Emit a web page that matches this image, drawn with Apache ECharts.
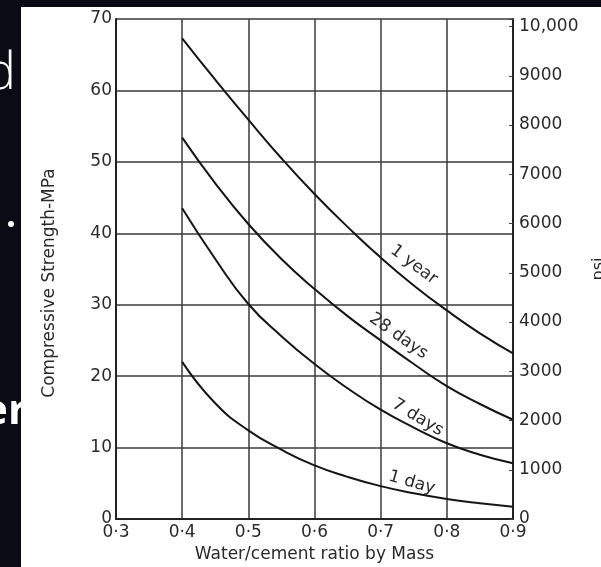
<!DOCTYPE html>
<html>
<head>
<meta charset="utf-8">
<script src="https://cdn.jsdelivr.net/npm/echarts@6/dist/echarts.min.js"></script>
<style>
html,body{margin:0;padding:0;background:#0b0b15;}
#c{width:601px;height:567px;}
</style>
</head>
<body>
<div id="c"></div>
<script>
// water/cement ratio (x values)
const ratios = [0.40, 0.45, 0.50, 0.55, 0.60, 0.65, 0.70, 0.75, 0.80, 0.85, 0.90];
// compressive strength, MPa
const oneYear    = [67.3, 61.5, 55.9, 50.5, 45.5, 40.9, 36.6, 32.7, 29.2, 26.0, 23.2];
const days28     = [53.4, 47.0, 41.3, 36.4, 32.2, 28.4, 25.0, 21.7, 18.6, 16.1, 13.9];
const days7      = [43.5, 36.4, 30.1, 25.6, 21.7, 18.3, 15.3, 12.8, 10.6,  9.0,  7.8];
const days1      = [22.0, 16.2, 12.4,  9.7,  7.5,  5.9,  4.6,  3.6,  2.8,  2.2,  1.7];
const curveNames = ['1 year', '28 days', '7 days', '1 day'];
const curveData  = [oneYear, days28, days7, days1];
// label anchors in data coords [ratio, MPa] and angle
const labelAnchors = [[0.750, 35.6], [0.727, 25.6], [0.756, 14.2], [0.747, 5.1]];
const labelAngles  = [-37, -35, -31, -16];
// axis ticks
const xTicks   = [0.3, 0.4, 0.5, 0.6, 0.7, 0.8, 0.9];
const mpaTicks = [0, 10, 20, 30, 40, 50, 60, 70];
const psiTicks = [0, 1000, 2000, 3000, 4000, 5000, 6000, 7000, 8000, 9000, 10000];
const MPA_PER_PSI = 0.00689476;

const font = 'DejaVu Sans';
const txt = '#2a2a2a';
const gridCol = '#3a3a3a';

const chart = echarts.init(document.getElementById('c'), null, {renderer: 'canvas'});

const series = curveNames.map((name, i) => ({
  name: name,
  type: 'line',
  smooth: 0.5,
  showSymbol: false,
  data: ratios.map((r, k) => [r, curveData[i][k]]),
  lineStyle: {color: '#151515', width: 2},
  itemStyle: {color: '#151515'},
  z: 5,
  markPoint: {
    symbol: 'circle',
    symbolSize: 0,
    silent: true,
    data: [{coord: labelAnchors[i], value: name}],
    label: {
      show: true,
      position: 'inside',
      formatter: name,
      rotate: labelAngles[i],
      color: txt,
      fontFamily: font,
      fontSize: 17
    }
  }
}));

const option = {
  backgroundColor: '#0b0b15',
  animation: false,
  graphic: {
    elements: [
      {type: 'text', x: 16, y: 100, z: -10,
       style: {text: 'd', fill: '#ffffff', font: '300 52px "Open Sans"', textAlign: 'right', textVerticalAlign: 'bottom'}},
      {type: 'circle', x: 11, y: 224, z: -10, shape: {r: 3}, style: {fill: '#ffffff'}},
      {type: 'text', x: 27, y: 433, z: -10,
       style: {text: 'er', fill: '#ffffff', font: '700 42px "Open Sans"', textAlign: 'right', textVerticalAlign: 'bottom'}},
      {type: 'rect', z: -9, shape: {x: 21, y: 7, width: 580, height: 560}, style: {fill: '#ffffff'}}
    ]
  },
  grid: {left: 116, right: 88, top: 19, bottom: 48, containLabel: false, outerBoundsMode: 'none'},
  xAxis: {
    type: 'value',
    min: xTicks[0], max: xTicks[xTicks.length - 1], interval: 0.1,
    name: 'Water/cement ratio by Mass',
    nameLocation: 'middle', nameGap: 27,
    nameTextStyle: {color: txt, fontFamily: font, fontSize: 17},
    axisLine: {show: true, lineStyle: {color: '#222', width: 2}},
    axisTick: {show: false},
    splitLine: {show: true, lineStyle: {color: gridCol, width: 1.5}},
    axisLabel: {
      color: txt, fontFamily: font, fontSize: 17, margin: 5,
      formatter: v => {
        const r = Math.round(v * 10) / 10;
        return xTicks.indexOf(r) >= 0 ? r.toFixed(1).replace('.', '·') : '';
      }
    }
  },
  yAxis: [
    {
      type: 'value', position: 'left',
      min: mpaTicks[0], max: mpaTicks[mpaTicks.length - 1], interval: 10,
      name: 'Compressive Strength-MPa',
      nameLocation: 'middle', nameGap: 58, nameRotate: 90,
      nameTextStyle: {color: txt, fontFamily: font, fontSize: 17, padding: [0, 28, 0, 0]},
      axisLine: {show: true, lineStyle: {color: '#222', width: 2}},
      axisTick: {show: false},
      splitLine: {show: true, lineStyle: {color: gridCol, width: 1.5}},
      axisLabel: {color: txt, fontFamily: font, fontSize: 17, margin: 4}
    },
    {
      type: 'value', position: 'right',
      min: psiTicks[0], max: 70 / MPA_PER_PSI, interval: 1000,
      name: 'psi',
      nameLocation: 'middle', nameGap: 78, nameRotate: 90,
      nameTextStyle: {color: txt, fontFamily: font, fontSize: 16},
      axisLine: {show: true, lineStyle: {color: '#222', width: 2}},
      axisTick: {show: true, inside: true, length: 4, lineStyle: {color: '#444', width: 1}},
      splitLine: {show: false},
      axisLabel: {
        color: txt, fontFamily: font, fontSize: 17, margin: 6,
        formatter: v => {
          const r = Math.round(v);
          if (psiTicks.indexOf(r) < 0 || Math.abs(v - r) > 0.01) return '';
          return r === 10000 ? '10,000' : String(r);
        }
      }
    }
  ],
  series: series
};
chart.setOption(option);
</script>
</body>
</html>
